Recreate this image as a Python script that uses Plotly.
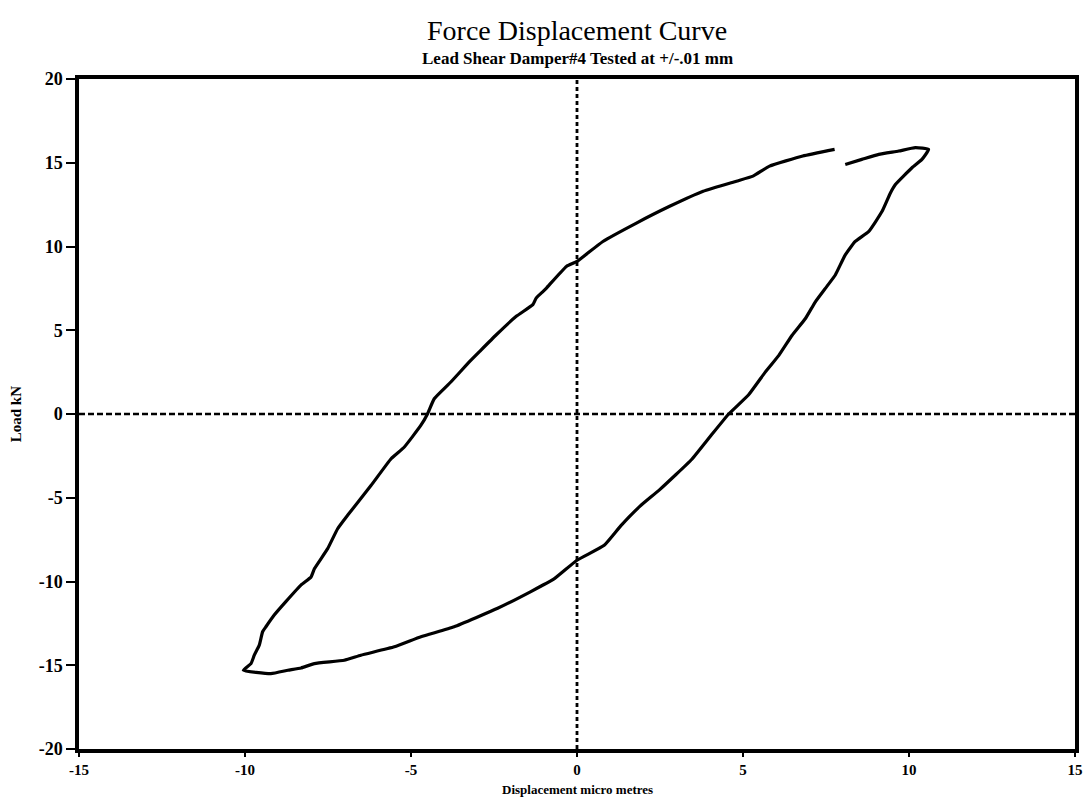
import plotly.graph_objects as go

# Hysteresis loop digitized (displacement micro metres, load kN), traced from the
# small break near the top right, round the loop, back to the break.
disp = [8.08, 8.58, 9.09, 9.69, 10.19, 10.59, 10.39, 10.09, 9.59, 9.44, 9.19, 8.79,
        8.38, 8.08, 7.78, 7.48, 7.18, 6.88, 6.48, 6.08, 5.67, 5.17, 4.57, 4.07, 3.46,
        2.5, 1.9, 1.33, 0.82, 0.0, -0.68, -1.39, -2.39, -3.7, -4.7, -5.5, -6.51, -7.01,
        -7.91, -8.31, -8.71, -9.22, -10.05,
        -9.82, -9.72, -9.57, -9.47, -9.37, -9.12, -8.77, -8.31, -8.01, -7.91, -7.51,
        -7.21, -6.91, -6.2, -5.6, -5.2, -4.7, -4.5, -4.3, -3.8, -3.23, -2.93,
        -2.43, -1.83, -1.33, -1.23, -1.02, -0.92, -0.32, 0.0, 0.78, 1.79, 2.79, 3.8,
        4.8, 5.3, 5.8, 6.8, 7.76]
load = [14.9, 15.2, 15.5, 15.7, 15.9, 15.8, 15.2, 14.7, 13.7, 13.2, 12.1, 10.9,
        10.3, 9.5, 8.3, 7.5, 6.7, 5.7, 4.7, 3.5, 2.5, 1.15, 0.0, -1.2, -2.7,
        -4.5, -5.5, -6.65, -7.84, -8.73, -9.83, -10.6, -11.6, -12.7, -13.3, -13.9, -14.4, -14.7,
        -14.9, -15.16, -15.3, -15.5, -15.3,
        -14.9, -14.4, -13.8, -13.0, -12.7, -12.0, -11.2, -10.2, -9.73, -9.24, -8.04,
        -6.85, -6.05, -4.26, -2.67, -1.97, -0.67, 0.02, 0.91, 1.91, 3.14, 3.74,
        4.73, 5.83, 6.53, 6.92, 7.32, 7.52, 8.81, 9.11, 10.3, 11.4, 12.4, 13.3,
        13.9, 14.2, 14.8, 15.4, 15.8]

x_ticks = [-15, -10, -5, 0, 5, 10, 15]
y_ticks = [-20, -15, -10, -5, 0, 5, 10, 15, 20]

title_text = "Force Displacement Curve"
subtitle_text = "Lead Shear Damper#4 Tested at +/-.01 mm"
x_title = "Displacement micro metres"
y_title = "Load kN"

FONT = "Liberation Serif"

fig = go.Figure()
fig.add_trace(go.Scatter(x=disp, y=load, mode="lines",
                         line=dict(color="black", width=3.2, shape="spline", smoothing=0.4),
                         showlegend=False, hoverinfo="skip"))

# dashed zero lines
fig.add_shape(type="line", xref="x", yref="y", x0=-15, x1=15, y0=0, y1=0,
              line=dict(color="black", width=2.5, dash="6px,3px"))
fig.add_shape(type="line", xref="x", yref="y", x0=0, x1=0, y0=-20, y1=20,
              line=dict(color="black", width=2.8, dash="4px,3px"))

axis_common = dict(showgrid=False, zeroline=False, showline=True, linecolor="black",
                   linewidth=3.5, mirror=True, ticks="outside", tickwidth=2,
                   tickcolor="black")

fig.update_xaxes(range=[-15, 15], tickvals=x_ticks, ticktext=[str(v) for v in x_ticks],
                 ticklen=4,
                 tickfont=dict(family=FONT, size=15, color="black", weight="bold"),
                 **axis_common)
fig.update_yaxes(range=[-20, 20], tickvals=y_ticks, ticktext=[str(v) for v in y_ticks],
                 ticklen=9,
                 tickfont=dict(family=FONT, size=18, color="black", weight="bold"),
                 **axis_common)

fig.add_annotation(text=title_text, xref="paper", yref="paper", x=0.5, y=1.072,
                   showarrow=False, xanchor="center", yanchor="middle",
                   font=dict(family=FONT, size=28, color="black"))
fig.add_annotation(text=subtitle_text, xref="paper", yref="paper", x=0.5, y=1.031,
                   showarrow=False, xanchor="center", yanchor="middle",
                   font=dict(family=FONT, size=17, color="black", weight="bold"))
fig.add_annotation(text=x_title, xref="paper", yref="paper", x=0.5, y=-0.061,
                   showarrow=False, xanchor="center", yanchor="middle",
                   font=dict(family=FONT, size=13, color="black", weight="bold"))
fig.add_annotation(text=y_title, xref="paper", yref="paper", x=-0.063, y=0.5,
                   showarrow=False, xanchor="center", yanchor="middle", textangle=-90,
                   font=dict(family=FONT, size=15, color="black", weight="bold"))

fig.update_layout(width=1091, height=798, plot_bgcolor="white", paper_bgcolor="white",
                  margin=dict(l=79, r=16, t=79, b=49, autoexpand=False))

fig.write_html("out.html")
